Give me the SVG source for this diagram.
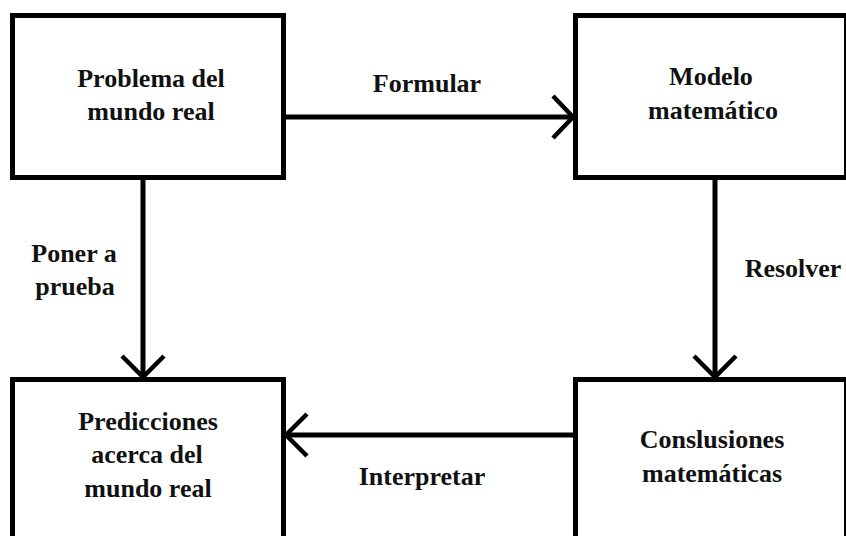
<svg xmlns="http://www.w3.org/2000/svg" width="846" height="536" viewBox="0 0 846 536">
  <style>
    .box { fill: #ffffff; stroke: #000000; stroke-width: 5; }
    .line { fill: none; stroke: #000000; stroke-width: 5; }
    .head { fill: none; stroke: #000000; stroke-width: 4.5; stroke-linecap: butt; stroke-linejoin: miter; }
    text { font-family: "Liberation Serif", "Times New Roman", serif; font-weight: bold; font-size: 26px; fill: #111111; text-anchor: middle; }
  </style>
  <rect width="846" height="536" fill="#ffffff"/>

  <!-- connectors -->
  <g id="connectors">
    <!-- Formular -->
    <line class="line" x1="286" y1="117" x2="571" y2="117"/>
    <polyline class="head" points="553,96 573,117 553,138"/>
    <!-- Resolver -->
    <line class="line" x1="715" y1="180" x2="715" y2="375"/>
    <polyline class="head" points="694,356 715,377 736,356"/>
    <!-- Interpretar -->
    <line class="line" x1="573" y1="435" x2="288" y2="435"/>
    <polyline class="head" points="307,414 286,435 307,456"/>
    <!-- Poner a prueba -->
    <line class="line" x1="143" y1="180" x2="143" y2="375"/>
    <polyline class="head" points="122,356 143,377 164,356"/>
  </g>

  <g id="problema">
    <rect class="box" x="12.5" y="15.5" width="271" height="162"/>
    <text x="151" y="87">Problema del</text>
    <text x="151" y="120">mundo real</text>
  </g>

  <g id="modelo">
    <rect class="box" x="575.5" y="15.5" width="271" height="162"/>
    <text x="711" y="85">Modelo</text>
    <text x="713" y="119">matemático</text>
  </g>

  <g id="predicciones">
    <rect class="box" x="12.5" y="379.5" width="271" height="170"/>
    <text x="148" y="430">Predicciones</text>
    <text x="147" y="463">acerca del</text>
    <text x="148" y="497">mundo real</text>
  </g>

  <g id="conclusiones">
    <rect class="box" x="575.5" y="379.5" width="271" height="170"/>
    <text x="712" y="448">Conslusiones</text>
    <text x="712" y="482">matemáticas</text>
  </g>

  <g id="labels">
    <text x="427" y="92">Formular</text>
    <text x="793" y="277">Resolver</text>
    <text x="422" y="485">Interpretar</text>
    <text x="74" y="262">Poner a</text>
    <text x="75" y="295">prueba</text>
  </g>
</svg>
